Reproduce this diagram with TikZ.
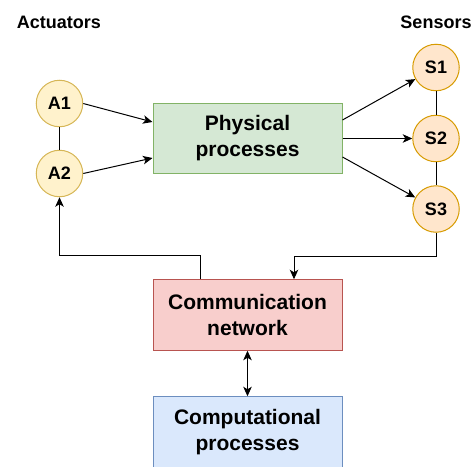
\documentclass[tikz,border=0pt]{standalone}
\usepackage{fontspec}
\setmainfont{Liberation Sans}
\usetikzlibrary{arrows.meta}

\definecolor{actfill}{HTML}{FFF2CC}
\definecolor{actline}{HTML}{D6B656}
\definecolor{senfill}{HTML}{FFE6CC}
\definecolor{senline}{HTML}{D79B00}
\definecolor{physfill}{HTML}{D5E8D4}
\definecolor{physline}{HTML}{82B366}
\definecolor{netfill}{HTML}{F8CECC}
\definecolor{netline}{HTML}{B85450}
\definecolor{compfill}{HTML}{DAE8FC}
\definecolor{compline}{HTML}{6C8EBF}

\begin{document}
\begin{tikzpicture}[x=1pt,y=-1pt,
  dev/.style={circle, minimum size=46.5pt, inner sep=0pt, line width=1pt,
    font=\fontsize{18}{21}\selectfont\bfseries},
  actuator/.style={dev, draw=actline, fill=actfill},
  sensor/.style={dev, draw=senline, fill=senfill},
  block/.style={rectangle, minimum width=189pt, minimum height=70.5pt, inner sep=0pt,
    line width=1pt, align=center, font=\fontsize{21}{26}\selectfont\bfseries},
  heading/.style={font=\fontsize{18}{21}\selectfont\bfseries, inner sep=0pt},
  link/.style={line width=1pt, draw=black},
  tip/.style={Stealth[length=9.5pt,width=8.5pt,inset=2.5pt]},
  arr/.style={link, -{Stealth[length=9.5pt,width=8.5pt,inset=2.5pt]}},
  darr/.style={link, {Stealth[length=9.5pt,width=8.5pt,inset=2.5pt]}-{Stealth[length=9.5pt,width=8.5pt,inset=2.5pt]}}
]
\useasboundingbox (0,0) rectangle (471,466);

% column headings
\node[heading] (acthead) at (59,22) {Actuators};
\node[heading] (senhead) at (436,22) {Sensors};

% actuators and sensors
\node[actuator] (A1) at (59.5,103.5) {A1};
\node[actuator] (A2) at (59.5,173.5) {A2};
\node[sensor] (S1) at (436,67.5) {S1};
\node[sensor] (S2) at (436,138.5) {S2};
\node[sensor] (S3) at (436,209) {S3};

% process blocks
\node[block, draw=physline, fill=physfill] (phys) at (247.5,138.5) {Physical\\processes};
\node[block, draw=netline, fill=netfill] (comm) at (247.5,315) {Communication\\network};
\node[block, draw=compline, fill=compfill] (comp) at (247.5,432) {Computational\\processes};

% device groupings
\draw[link] (A1) -- (A2);
\draw[link] (S1) -- (S2);
\draw[link] (S2) -- (S3);

% actuation into the physical process
\draw[arr] (A1.east) -- ([yshift=16.5pt]phys.west);
\draw[arr] (A2.east) -- ([yshift=-19.5pt]phys.west);

% sensing of the physical process
\draw[arr] ([yshift=18.5pt]phys.east) -- (S1);
\draw[arr] (phys.east) -- (S2);
\draw[arr] ([yshift=-18.5pt]phys.east) -- (S3);

% network loops
\draw[arr] ([xshift=-47.5pt]comm.north) -- ++(0,-24) -| (A2.south);
\draw[arr] (S3.south) -- ++(0,24) -| ([xshift=46.5pt]comm.north);
\draw[darr] (comm.south) -- (comp.north);
\end{tikzpicture}
\end{document}
